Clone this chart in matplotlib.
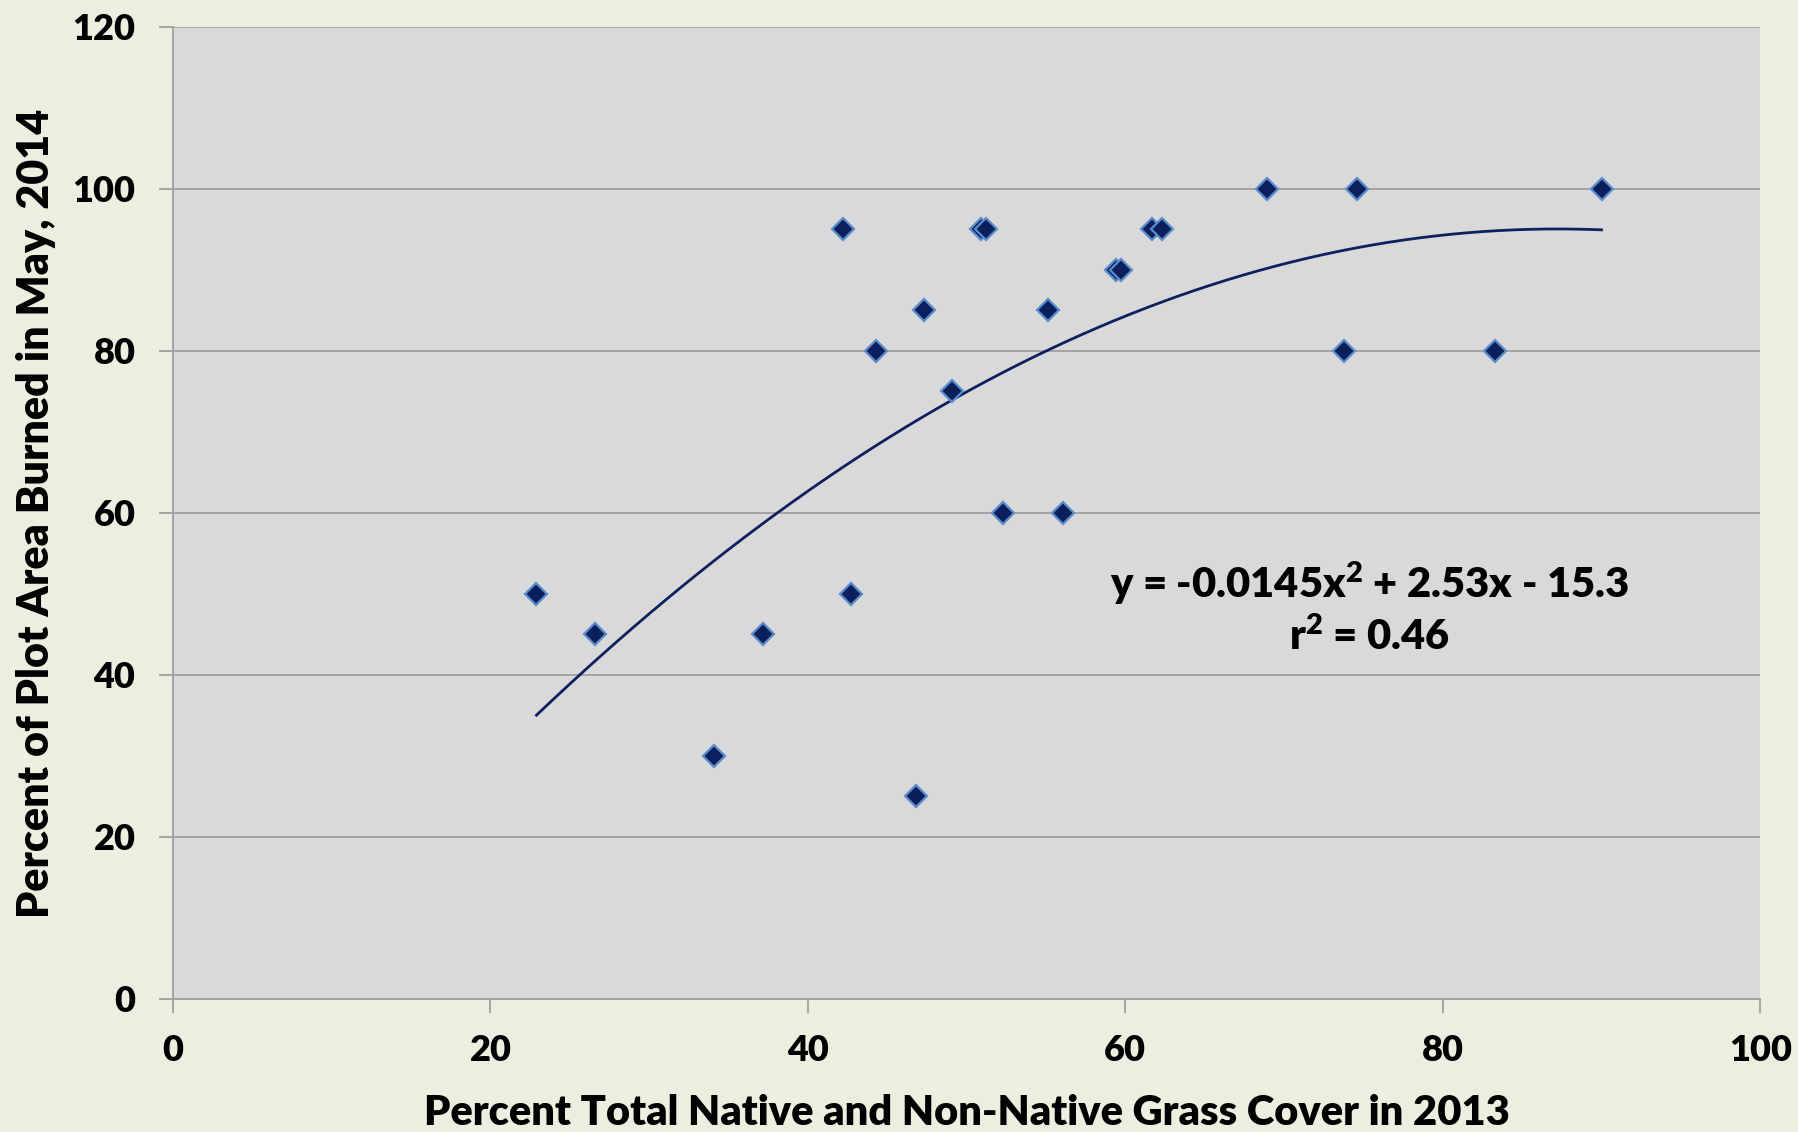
import numpy as np
import matplotlib
matplotlib.use("Agg")
from matplotlib import pyplot as plt

# grass cover 2013 (%) vs plot area burned May 2014 (%)
grass_cover = [22.9, 26.6, 34.1, 37.2, 42.2, 42.7, 44.3, 46.8, 47.3, 49.1,
               50.9, 51.2, 52.3, 55.1, 56.1, 59.4, 59.7, 61.7, 62.3, 68.9,
               73.8, 74.6, 83.3, 90.0]
area_burned = [50, 45, 30, 45, 95, 50, 80, 25, 85, 75,
               95, 95, 60, 85, 60, 90, 90, 95, 95, 100,
               80, 100, 80, 100]

# trendline coefficients as printed on the chart
trend_coef = [-0.0145, 2.53, -15.3]
eq_label = "y = -0.0145x$^{2}$ + 2.53x - 15.3\nr$^{2}$ = 0.46"

x_ticks = [0, 20, 40, 60, 80, 100]
y_ticks = [0, 20, 40, 60, 80, 100, 120]

W = "heavy"
plt.rcParams["font.family"] = ["Lato", "DejaVu Sans"]
plt.rcParams["font.weight"] = W
plt.rcParams["mathtext.fontset"] = "custom"
plt.rcParams["mathtext.rm"] = "Lato:heavy"
plt.rcParams["mathtext.it"] = "Lato:heavy"

fig = plt.figure(figsize=(17.98, 11.32), dpi=100, facecolor="#EBEFDF")
ax = fig.add_axes([0.0962, 0.1175, 0.8828, 0.8587])
ax.set_facecolor("#D9D9D9")

ax.set_xlim(0, 100)
ax.set_ylim(0, 120)
ax.set_xticks(x_ticks)
ax.set_yticks(y_ticks)
ax.grid(axis="y", color="#A0A0A0", linewidth=1.3)
ax.set_axisbelow(True)

for s in ["top", "right"]:
    ax.spines[s].set_visible(False)
for s in ["left", "bottom"]:
    ax.spines[s].set_color("#A0A0A0")
    ax.spines[s].set_linewidth(1.3)

ax.tick_params(direction="out", length=10, width=1.3, color="#A0A0A0",
               labelsize=26)
ax.tick_params(axis="x", pad=15)
ax.tick_params(axis="y", pad=17)
for lbl in ax.get_xticklabels() + ax.get_yticklabels():
    lbl.set_fontweight(W)

# trendline
xs = np.linspace(min(grass_cover), max(grass_cover), 200)
ax.plot(xs, np.polyval(trend_coef, xs), color="#0D2060", linewidth=2.0,
        zorder=2)

ax.plot(grass_cover, area_burned, linestyle="none", marker="D",
        markersize=11, markerfacecolor="#0A1F5C", markeredgecolor="#5B8CCB",
        markeredgewidth=1.6, zorder=3)

ax.text(75.4, 48.2, eq_label, ha="center", va="center", fontsize=30,
        fontweight=W, linespacing=1.3)

ax.set_xlabel("Percent Total Native and Non-Native Grass Cover in 2013",
              fontsize=30, fontweight=W, labelpad=20)
ax.set_ylabel("Percent of Plot Area Burned in May, 2014",
              fontsize=31, fontweight=W, labelpad=12)

fig.savefig("out.png", dpi=100, facecolor=fig.get_facecolor())
